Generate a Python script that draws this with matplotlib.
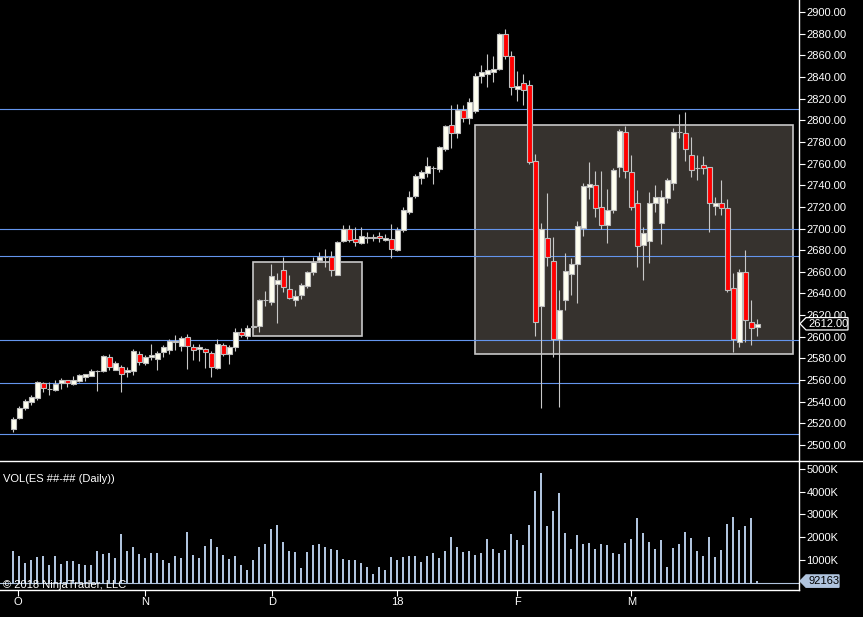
import matplotlib
matplotlib.use("Agg")
import matplotlib.pyplot as plt
import matplotlib.transforms as mtransforms
from matplotlib.patches import Polygon, Rectangle
from matplotlib.lines import Line2D
from matplotlib.ticker import FuncFormatter, MultipleLocator, FixedLocator
import numpy as np

plt.rcParams['font.family'] = ['Liberation Sans', 'DejaVu Sans']

# daily ES bars (Sep 29 2017 .. Mar 2018)
opens = [2515, 2525, 2534.5, 2540, 2543, 2557, 2551.75, 2551, 2557, 2560,
         2556, 2559.5, 2563, 2564, 2568.5, 2568.5, 2581, 2569.5, 2572.5, 2567,
         2568.5, 2584, 2575.5, 2581, 2579, 2585.5, 2587.5, 2595.25, 2591.5, 2600,
         2590.5, 2588.5, 2588.5, 2585, 2571.5, 2592.5, 2584, 2590.5, 2604, 2601,
         2609.25, 2610, 2633.5, 2632.5, 2648.5, 2662, 2644, 2634, 2638.5, 2647,
         2660, 2671, 2673.75, 2673.5, 2657.5, 2688, 2700, 2690, 2687, 2691.5,
         2691.75, 2693, 2689, 2690, 2680.5, 2699, 2715, 2730, 2747, 2751.5,
         2756, 2755, 2773.5, 2795.5, 2788, 2809.5, 2802.5, 2809, 2840.5, 2842.5,
         2845, 2847.5, 2880, 2859, 2828.5, 2834, 2832.5, 2762, 2628.5, 2691,
         2670, 2598, 2633.5, 2658, 2667.5, 2700.5, 2738.5, 2740, 2719.5, 2703.5,
         2717.5, 2756.5, 2789, 2752, 2723.5, 2684.5, 2688, 2724, 2705.5, 2728.5,
         2742.5, 2789, 2788, 2767.5, 2755.5, 2758.5, 2756.5, 2721, 2723.5, 2718.5,
         2645.5, 2595, 2659.5, 2613.5, 2609]
highs = [2526, 2536, 2542.5, 2546, 2559, 2558, 2558, 2560.5, 2561.5, 2560.5,
         2563.5, 2565.5, 2565.5, 2570, 2569.5, 2583, 2584.5, 2578, 2574, 2572.5,
         2588.5, 2586.5, 2583, 2593, 2587, 2592.5, 2598, 2601.5, 2600.5, 2602.5,
         2593, 2593, 2589.5, 2587, 2597.5, 2594, 2592.5, 2608.5, 2608, 2610.5,
         2610.5, 2635, 2642.5, 2667, 2659, 2674, 2657, 2643, 2649.5, 2660.5,
         2673.5, 2678, 2681, 2679, 2688, 2703, 2703, 2701, 2701, 2696.5,
         2694.5, 2696.5, 2694.5, 2704, 2701, 2719.5, 2734.5, 2750.5, 2754.5, 2766,
         2758, 2776.5, 2795.5, 2814, 2815, 2814, 2820.5, 2843.5, 2851, 2861,
         2859, 2881, 2884.5, 2864, 2845.5, 2842.5, 2837, 2768.5, 2705, 2733,
         2692, 2643, 2677, 2672.5, 2707, 2742, 2761, 2753, 2753, 2736.5,
         2755.5, 2792, 2795, 2768, 2736, 2701.5, 2733.5, 2740, 2735.5, 2746.5,
         2792.5, 2806, 2807.5, 2784.5, 2767.5, 2767, 2757, 2729.5, 2745, 2727.5,
         2659, 2663, 2680, 2634, 2616.5]
lows = [2512, 2524, 2532.5, 2536.5, 2541.5, 2549, 2546, 2550, 2552, 2554,
        2555, 2558, 2559.5, 2563.5, 2550, 2567, 2569.5, 2569, 2549, 2563,
        2565, 2573.5, 2574, 2578.5, 2569.5, 2581, 2584, 2588, 2587, 2570.5,
        2578.5, 2578, 2571.5, 2563, 2570, 2582, 2575, 2587, 2600, 2597.5,
        2607.5, 2604.5, 2628, 2629.5, 2613, 2641.5, 2635, 2628, 2634.5, 2645.5,
        2657.5, 2669, 2664, 2656.5, 2657, 2687.5, 2687.5, 2684, 2686, 2687,
        2688.5, 2687.5, 2688, 2673, 2679, 2697, 2713.5, 2728.5, 2741.5, 2748,
        2741.5, 2752.5, 2772, 2774.5, 2784, 2798.5, 2797, 2807, 2834, 2831,
        2835.5, 2846.5, 2857, 2823.5, 2818, 2814.5, 2760, 2601, 2534, 2665.5,
        2581.5, 2535.5, 2624.5, 2638.5, 2631.5, 2693, 2727.5, 2711, 2699.5, 2687,
        2714.5, 2748, 2747, 2717, 2664, 2652, 2668.5, 2715.5, 2686, 2724,
        2735.5, 2784, 2762.5, 2747.5, 2745, 2750.5, 2697, 2712.5, 2712.5, 2641.5,
        2586, 2590.5, 2595, 2592.5, 2601]
closes = [2524, 2534, 2540.5, 2544, 2558, 2553, 2552, 2556.5, 2560.5, 2557.5,
          2560.5, 2564.5, 2565.5, 2568, 2568.25, 2582, 2572, 2576, 2566, 2569,
          2587, 2576.5, 2581.5, 2583, 2585, 2590.5, 2596.5, 2596, 2599, 2591.5,
          2588, 2590.5, 2586, 2572.5, 2593.5, 2584, 2590.5, 2604, 2602, 2608.5,
          2609.5, 2634, 2634, 2656, 2652, 2646, 2636, 2637.5, 2647.5, 2659.5,
          2669.5, 2673.5, 2673.5, 2661.5, 2687.5, 2700, 2689, 2687.5, 2693, 2691.75,
          2691.5, 2691, 2691, 2681.5, 2698.5, 2717, 2729, 2748.5, 2752, 2757.5,
          2756.25, 2775, 2794.5, 2788, 2809.5, 2802, 2816.5, 2840.5, 2845, 2846,
          2847, 2880, 2859, 2830.5, 2831.5, 2827.5, 2761.5, 2613.5, 2699.5, 2673.5,
          2598, 2624.5, 2660.5, 2667, 2702, 2739.5, 2741, 2719, 2703.5, 2717,
          2754, 2790, 2753, 2719.5, 2683.5, 2695.5, 2724, 2729.5, 2729, 2744.5,
          2789, 2789.25, 2773, 2754.5, 2755.75, 2756, 2723.5, 2724, 2718.5, 2643.5,
          2597.5, 2659.5, 2615.5, 2608, 2612]
# volume in thousands of contracts
volume_k = [1406, 1190, 880, 1010, 1140, 1190, 790, 1190, 840, 970,
            970, 840, 790, 790, 1406, 1290, 1320, 1100, 2150, 1406,
            1580, 1280, 1100, 1320, 1320, 1010, 880, 1190, 1100, 2230,
            1230, 1100, 1620, 1930, 1580, 1230, 1060, 1190, 790, 580,
            1010, 1580, 1710, 2370, 2540, 1800, 1406, 1360, 660, 1360,
            1670, 1710, 1580, 1490, 1450, 1060, 1010, 1010, 880, 710,
            400, 710, 580, 1140, 1010, 1140, 1190, 1190, 920, 1190,
            1320, 1100, 1410, 2020, 1580, 1360, 1410, 1230, 1320, 1930,
            1490, 1320, 1450, 2150, 1890, 1670, 2540, 4020, 4810, 2500,
            3150, 3940, 2190, 1490, 2100, 1710, 1750, 1490, 1710, 1670,
            1320, 1280, 1750, 1930, 2840, 2190, 1800, 1490, 1890, 710,
            1540, 1710, 2230, 1970, 1410, 1190, 2020, 1140, 1450, 2580,
            2890, 2320, 2500, 2840, 92.163]

month_ticks = [0.83, 22.0, 43.07, 64.0, 84.0, 103.0]   # in bar units
month_labels = ['O', 'N', 'D', '18', 'F', 'M']

# horizontal lines drawn on the chart
levels = [2810.4, 2699.5, 2674.6, 2597.0, 2557.0, 2510.2]
# rectangles drawn on the chart: (first bar, last bar, low, high)
zones = [(40.0, 58.17, 2600.7, 2668.8), (77.0, 130.0, 2583.8, 2795.3)]

W, H = 863, 617
AX_R = 799.3      # right edge of plotting area (px)
SPLIT = 460.7     # price / volume separator (px from top)
BOT = 589.7       # bottom of volume panel

fig = plt.figure(figsize=(W / 100, H / 100), dpi=100, facecolor='black')


def px_rect(x0, y0, x1, y1):
    return [x0 / W, 1 - y1 / H, (x1 - x0) / W, (y1 - y0) / H]


ax = fig.add_axes(px_rect(0, 0, AX_R, SPLIT))
axv = fig.add_axes(px_rect(0, SPLIT, AX_R, BOT))

for a in (ax, axv):
    a.set_facecolor('black')
    for s in a.spines.values():
        s.set_visible(False)
    a.spines['right'].set_visible(True)
    a.spines['right'].set_color('white')
    a.spines['right'].set_linewidth(1.0)
    a.yaxis.tick_right()
    a.tick_params(axis='y', colors='white', length=4.5, width=0.8, pad=0.6,
                  labelsize=8)
    a.set_xlim(-2.217, 131.0)

# ---- price panel
x = np.arange(len(opens))
o, h, l, c = (np.array(v, dtype=float) for v in (opens, highs, lows, closes))
up = c >= o

for x0, x1, lo, hi in zones:
    ax.add_patch(Rectangle((x0, lo), x1 - x0, hi - lo, facecolor='#36322e',
                           edgecolor='#c8c8c8', lw=1.2, zorder=1))
for lv in levels:
    ax.axhline(lv, color='#6495ed', lw=0.8, zorder=2)

ax.vlines(x, l, h, color='#c8c8c8', lw=0.8, zorder=3)
ax.bar(x[up], (c - o)[up], bottom=o[up], width=0.75, color='#fffff0',
       edgecolor='#bdbdbd', lw=0.8, zorder=4)
ax.bar(x[~up], (o - c)[~up], bottom=c[~up], width=0.75, color='#ff0000',
       edgecolor='#bdbdbd', lw=0.8, zorder=4)

ax.set_ylim(2485.5, 2911.1)
ax.yaxis.set_major_locator(MultipleLocator(20))
ax.yaxis.set_major_formatter(FuncFormatter(lambda v, p: f'{v:.2f}'))
ax.set_xticks([])

# ---- volume panel
axv.bar(x, volume_k, width=0.33, color='#b0c4de', zorder=3)
axv.axhline(0, color='#b0c4de', lw=0.8, zorder=2)
axv.set_ylim(-284, 5345)
axv.yaxis.set_major_locator(FixedLocator([1000, 2000, 3000, 4000, 5000]))
axv.yaxis.set_major_formatter(FuncFormatter(lambda v, p: f'{v:.0f}K'))
axv.spines['bottom'].set_visible(True)
axv.spines['bottom'].set_color('white')
axv.spines['bottom'].set_linewidth(1.0)
axv.set_xticks(month_ticks, month_labels)
axv.tick_params(axis='x', colors='white', length=4.0, width=0.8, pad=1.5,
                labelsize=8)

# separator across the whole width
fig.add_artist(Line2D([0, 1], [1 - SPLIT / H] * 2, transform=fig.transFigure,
                      color='white', lw=1.0))


def tag(a, value, text, face, edge, tcolor, box_w):
    yd = a.transData.transform((0, value))[1]
    yt = H - yd
    hh = 6.2
    pts = [(AX_R + 0.7, yt), (806, yt - hh), (806 + box_w, yt - hh),
           (806 + box_w, yt + hh), (806, yt + hh)]
    pts = [(px / W, 1 - py / H) for px, py in pts]
    fig.add_artist(Polygon(pts, closed=True, transform=fig.transFigure,
                           facecolor=face, edgecolor=edge, lw=0.9, zorder=10))
    fig.text(808.5 / W, 1 - yt / H, text, color=tcolor, fontsize=8,
             ha='left', va='center', zorder=11)


tag(ax, closes[-1], f'{closes[-1]:.2f}', 'black', 'white', 'white', 42)
tag(axv, volume_k[-1], f'{volume_k[-1] * 1000:.0f}', '#b0c4de', '#b0c4de',
    'black', 33)

fig.text(3 / W, 1 - 479.5 / H, 'VOL(ES ##-## (Daily))', color='white',
         fontsize=8, ha='left', va='center')
fig.text(3 / W, 1 - 584.5 / H, '\u00a9 2018 NinjaTrader, LLC', color='white',
         fontsize=8, ha='left', va='center', zorder=12)

fig.savefig('out.png', dpi=100, facecolor='black')
